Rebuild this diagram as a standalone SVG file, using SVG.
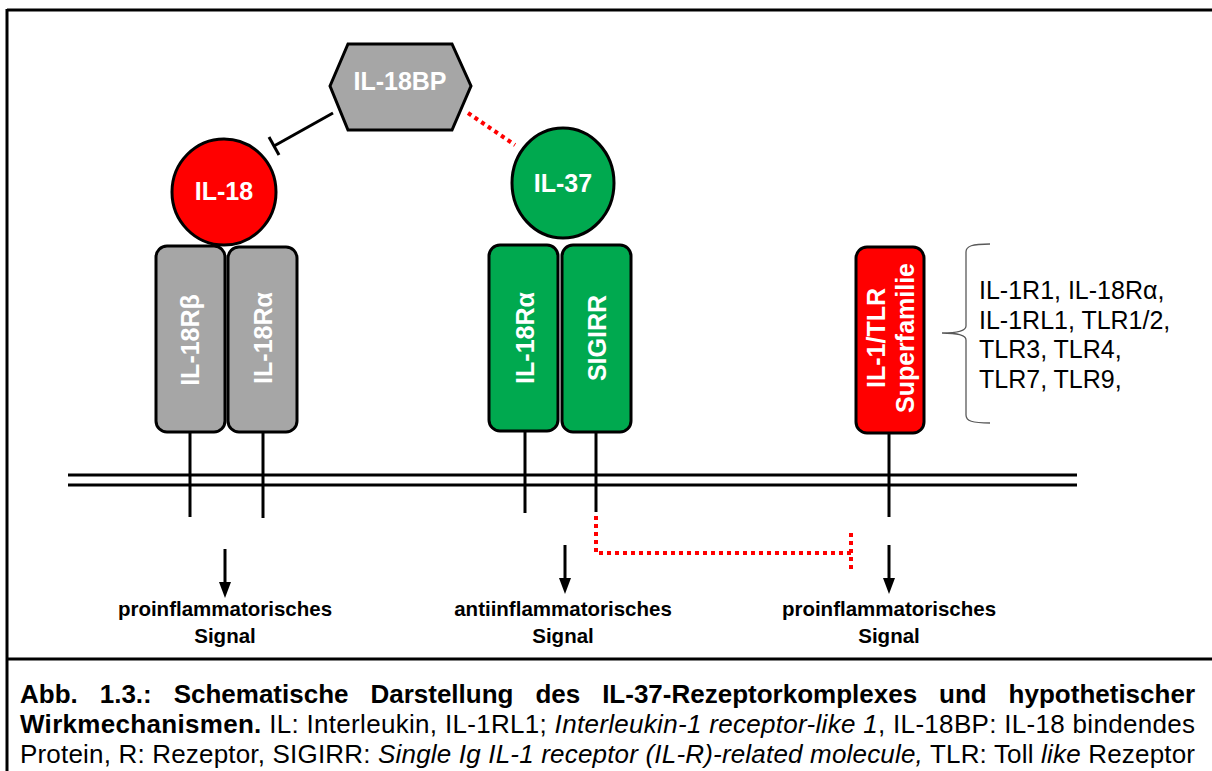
<svg xmlns="http://www.w3.org/2000/svg" width="1212" height="771" viewBox="0 0 1212 771">
<style>
.frame{stroke:#000;stroke-width:3;fill:none}
.shape{stroke:#000;stroke-width:3}
.gray{fill:#a6a6a6}
.red{fill:#ff0000}
.green{fill:#00a94f}
.lbl{font-family:"Liberation Sans",Arial,sans-serif;font-weight:bold;fill:#fff;font-size:25px;text-anchor:middle}
.sig{font-family:"Liberation Sans",Arial,sans-serif;font-weight:bold;fill:#000;font-size:20.5px;text-anchor:middle}
.list{font-family:"Liberation Sans",Arial,sans-serif;fill:#000;font-size:25px}
.cap{font-family:"Liberation Sans",Arial,sans-serif;fill:#000;font-size:26px}
.line{stroke:#000;stroke-width:3;fill:none}
.dot{stroke:#ff0000;stroke-width:4;fill:none;stroke-dasharray:4 4}
</style>
<defs>
<marker id="arr" viewBox="0 0 16 12" refX="6" refY="6" markerWidth="16" markerHeight="12" markerUnits="userSpaceOnUse" orient="auto">
<path d="M0,0 L16,6 L0,12 Z" fill="#000"/>
</marker>
</defs>
<rect width="1212" height="771" fill="#fff"/>
<g id="frame">
<line class="frame" x1="7" y1="10" x2="1212" y2="10"/>
<line class="frame" x1="7" y1="9" x2="7" y2="771"/>
<line class="frame" x1="7" y1="659" x2="1212" y2="659"/>
</g>
<g id="membrane">
<line class="line" x1="68" y1="475" x2="1077" y2="475"/>
<line class="line" x1="68" y1="485" x2="1077" y2="485"/>
</g>
<g id="connectors">
<line class="line" x1="190" y1="432" x2="190" y2="517"/>
<line class="line" x1="263" y1="432" x2="263" y2="518"/>
<line class="line" x1="525" y1="431" x2="525" y2="513"/>
<line class="line" x1="596" y1="432" x2="596" y2="512"/>
<line class="line" x1="889" y1="433" x2="889" y2="517"/>
<line class="line" x1="333" y1="113" x2="274" y2="146"/>
<line class="line" x1="269" y1="137" x2="279" y2="155"/>
<line class="dot" x1="468" y1="113" x2="515" y2="145"/>
<polyline class="dot" points="596,516 596,553 851,553"/>
<line class="dot" x1="851" y1="533" x2="851" y2="570"/>
<line class="line" x1="225" y1="549" x2="225" y2="588" marker-end="url(#arr)"/>
<line class="line" x1="565" y1="545" x2="565" y2="584" marker-end="url(#arr)"/>
<line class="line" x1="889" y1="545" x2="889" y2="584" marker-end="url(#arr)"/>
</g>
<g id="il18bp">
<polygon class="shape gray" points="330,86 348,44 452,44 471,86 452,130 348,130"/>
<text class="lbl" x="400" y="90">IL-18BP</text>
</g>
<g id="il18">
<ellipse class="shape red" cx="224" cy="192" rx="52" ry="53"/>
<text class="lbl" x="224" y="200">IL-18</text>
</g>
<g id="il37">
<ellipse class="shape green" cx="563" cy="183" rx="51" ry="55"/>
<text class="lbl" x="563" y="192">IL-37</text>
</g>
<g id="il18rb">
<rect class="shape gray" x="156" y="246" width="69" height="186" rx="11"/>
<text class="lbl" transform="translate(199,340) rotate(-90)">IL-18Rβ</text>
</g>
<g id="il18ra">
<rect class="shape gray" x="228" y="247" width="69" height="185" rx="11"/>
<text class="lbl" transform="translate(272,338) rotate(-90)">IL-18Rα</text>
</g>
<g id="il18ra2">
<rect class="shape green" x="489" y="245" width="69" height="186" rx="11"/>
<text class="lbl" transform="translate(534,338) rotate(-90)">IL-18Rα</text>
</g>
<g id="sigirr">
<rect class="shape green" x="562" y="245" width="69" height="187" rx="11"/>
<text class="lbl" transform="translate(606,338) rotate(-90)">SIGIRR</text>
</g>
<g id="tlr">
<rect class="shape red" x="856" y="247" width="68" height="186" rx="11"/>
<text class="lbl" transform="translate(885,338) rotate(-90)">IL-1/TLR</text>
<text class="lbl" transform="translate(914,338) rotate(-90)">Superfamilie</text>
</g>
<g id="brace">
<path d="M990,244 C972,244 966,246 966,252 L966,326 C966,331 958,333 942,333 C958,333 966,335 966,340 L966,415 C966,421 972,423 990,423" fill="none" stroke="#595959" stroke-width="1.3"/>
<text class="list" x="979" y="299">IL-1R1, IL-18Rα,</text>
<text class="list" x="979" y="329">IL-1RL1, TLR1/2,</text>
<text class="list" x="979" y="358">TLR3, TLR4,</text>
<text class="list" x="979" y="388">TLR7, TLR9,</text>
</g>
<g id="signals">
<text class="sig" x="225" y="616">proinflammatorisches</text>
<text class="sig" x="225" y="643">Signal</text>
<text class="sig" x="563" y="616">antiinflammatorisches</text>
<text class="sig" x="563" y="643">Signal</text>
<text class="sig" x="889" y="616">proinflammatorisches</text>
<text class="sig" x="889" y="643">Signal</text>
</g>
<g id="caption" class="cap">
<text x="20" y="703" font-weight="bold" word-spacing="14.7" textLength="1175" lengthAdjust="spacing">Abb. 1.3.: Schematische Darstellung des IL-37-Rezeptorkomplexes und hypothetischer</text>
<text x="20" y="733" textLength="1175" lengthAdjust="spacing"><tspan font-weight="bold">Wirkmechanismen.</tspan> IL: Interleukin, IL-1RL1; <tspan font-style="italic">Interleukin-1 receptor-like 1</tspan>, IL-18BP: IL-18 bindendes</text>
<text x="20" y="763" textLength="1175" lengthAdjust="spacing">Protein, R: Rezeptor, SIGIRR: <tspan font-style="italic">Single Ig IL-1 receptor (IL-R)-related molecule,</tspan> TLR: Toll <tspan font-style="italic">like</tspan> Rezeptor</text>
</g>
</svg>
